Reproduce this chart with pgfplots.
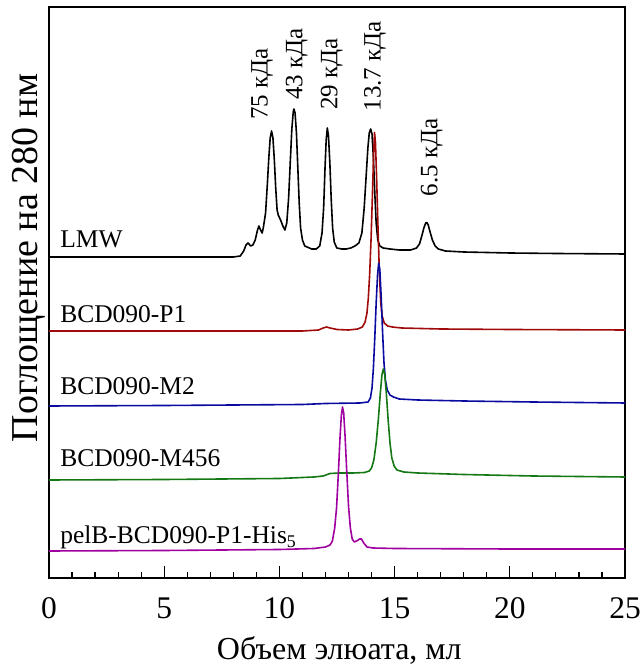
\documentclass[border=0pt]{standalone}
\usepackage{pgfplots}
\pgfplotsset{compat=1.18}
\usepackage{fontspec}
\setmainfont{Liberation Serif}
\definecolor{cRed}{RGB}{160,10,10}
\definecolor{cBlue}{RGB}{10,10,160}
\definecolor{cGreen}{RGB}{20,120,20}
\definecolor{cPurple}{RGB}{160,0,160}
\begin{document}
\begin{tikzpicture}
\useasboundingbox (0,0) rectangle (641pt,671pt);
\begin{axis}[
  at={(49pt,93pt)}, anchor=south west,
  scale only axis, width=576pt, height=571pt,
  xmin=0, xmax=25, ymin=0, ymax=571,
  xtick={0,5,...,25}, minor x tick num=4,
  ytick=\empty,
  xtick pos=bottom, tick align=inside,
  major tick length=12pt, minor tick length=6pt,
  every tick/.style={black, line width=1.2pt},
  axis line style={line width=1.5pt},
  /pgf/number format/assume math mode=true,
  xticklabel style={font=\fontsize{31.5}{38}\selectfont, anchor=base, yshift=-41pt},
  xlabel={Объем элюата, мл},
  ylabel={Поглощение на 280 нм},
  xlabel style={font=\fontsize{32}{38}\selectfont, at={(axis description cs:0.504,-0.1419)}, anchor=base},
  ylabel style={font=\fontsize{38}{44}\selectfont, at={(axis description cs:-0.0191,0.5604)}, anchor=base},
  clip=false,
  every axis plot/.append style={line width=1.6pt, line join=round},
]
% LMW
\addplot[black] coordinates {
(0,321) (4,321) (8.0,321) (8.3,322) (8.45,327) (8.55,333) (8.64,335) (8.75,332) (8.85,333) (8.95,338) (9.05,348) (9.11,352) (9.18,348) (9.25,345)
(9.30,350) (9.40,365) (9.48,395) (9.54,420) (9.60,440) (9.66,447) (9.72,440) (9.78,418) (9.84,390) (9.90,368) (9.95,363)
(10.05,358) (10.15,352) (10.24,348) (10.32,355) (10.40,380) (10.48,420) (10.54,449) (10.60,466) (10.63,469) (10.68,465) (10.74,445)
(10.80,410) (10.86,375) (10.92,350) (11.00,338) (11.10,332) (11.2,331) (11.4,329) (11.6,329) (11.75,332) (11.85,345) (11.92,370)
(11.98,410) (12.03,438) (12.08,450) (12.13,442) (12.19,415) (12.25,378) (12.31,350) (12.38,336) (12.49,330) (12.7,329) (12.9,329)
(13.1,330) (13.28,332) (13.45,335) (13.58,345) (13.68,370) (13.76,400) (13.84,430) (13.90,445) (13.96,449) (14.02,444) (14.08,420)
(14.14,385) (14.20,355) (14.27,338) (14.36,332) (14.5,330) (14.8,329) (15.2,328) (15.7,328) (15.95,330) (16.08,334) (16.18,342)
(16.27,350) (16.35,355) (16.40,355.5) (16.46,353) (16.54,346) (16.64,338) (16.76,332) (16.9,329) (17.2,327) (18,326) (20,325) (22,324.5) (25,324)
};
% BCD090-P1
\addplot[cRed] coordinates {
(0,247) (11.0,247) (11.7,248) (11.9,250) (12.05,251) (12.2,250) (12.5,248.5) (13.0,248) (13.4,249) (13.6,251) (13.72,256) (13.8,265)
(13.86,280) (13.92,305) (13.98,340) (14.04,385) (14.09,425) (14.13,445.5) (14.17,435) (14.22,400) (14.28,350) (14.34,305) (14.40,275)
(14.46,262) (14.55,255) (14.7,252) (14.9,251) (15.3,250) (17,249) (20,248.5) (25,248)
};
% BCD090-M2
\addplot[cBlue] coordinates {
(0,172) (5,172.5) (11,173.5) (12,174.5) (13.5,175) (13.85,176) (13.95,180) (14.02,190) (14.08,210) (14.14,240) (14.2,275) (14.26,303)
(14.31,315) (14.36,308) (14.42,280) (14.48,245) (14.54,215) (14.6,198) (14.68,188) (14.8,183) (14.95,181) (15.2,179) (16,178) (18,177) (21,176) (25,175)
};
% BCD090-M456
\addplot[cGreen] coordinates {
(0,98) (5,98.5) (10,99.5) (11.5,101) (11.9,102) (12.2,104.5) (12.6,105) (13.2,105) (13.7,105.5) (13.9,107) (14.0,110) (14.1,118) (14.2,135)
(14.3,160) (14.38,185) (14.45,203) (14.51,209) (14.57,204) (14.64,185) (14.72,158) (14.8,135) (14.88,120) (14.98,112) (15.1,108)
(15.4,106) (16,105) (18,103.5) (21,102) (25,101)
};
% pelB-BCD090-P1-His5
\addplot[cPurple] coordinates {
(0,27) (5,27.5) (10,28.5) (11.5,29.5) (12.0,31) (12.2,33) (12.3,37) (12.4,50) (12.48,70) (12.56,105) (12.63,140) (12.69,163) (12.74,171)
(12.79,165) (12.85,142) (12.92,108) (13.0,72) (13.08,50) (13.16,39) (13.25,36) (13.35,37) (13.48,39) (13.56,39) (13.66,35) (13.8,31)
(14.06,30) (15,29.5) (20,29) (25,29)
};
\begin{scope}[every node/.style={font=\fontsize{25.5}{30}\selectfont, inner sep=0pt, anchor=base west}]
\node at (axis cs:0.48,330) {LMW};
\node at (axis cs:0.48,255.7) {BCD090-P1};
\node at (axis cs:0.48,183.7) {BCD090-M2};
\node at (axis cs:0.48,111.3) {BCD090-M456};
\node at (axis cs:0.48,34.7) {pelB-BCD090-P1-His\textsubscript{5}};
\end{scope}
\begin{scope}[every node/.style={font=\fontsize{25}{30}\selectfont, inner sep=0pt, anchor=west, rotate=90}]
\node at (axis cs:9.245,458) {75 кДа};
\node at (axis cs:10.75,478) {43 кДа};
\node at (axis cs:12.27,468) {29 кДа};
\node at (axis cs:14.15,466.3) {13.7 кДа};
\node at (axis cs:16.61,381.3) {6.5 кДа};
\end{scope}
\end{axis}
\end{tikzpicture}
\end{document}
